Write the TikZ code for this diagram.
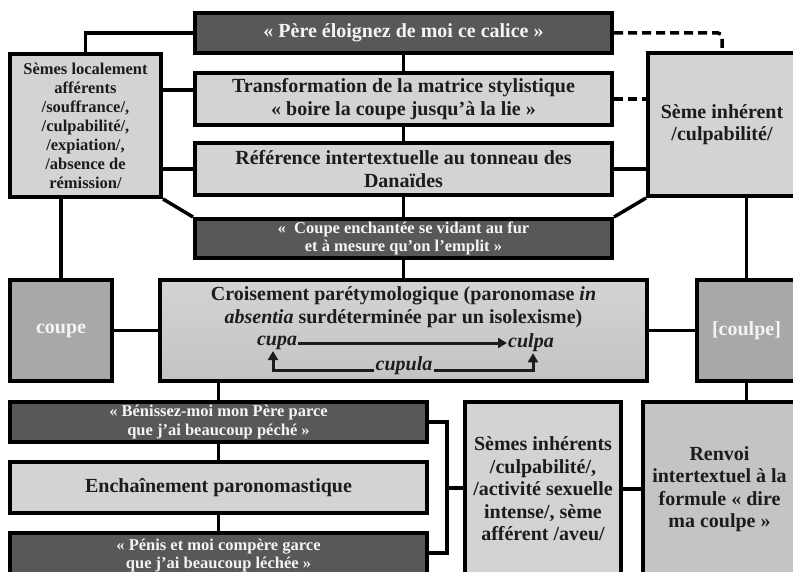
\documentclass[tikz,border=0pt]{standalone}
\usepackage{fontspec}
\setmainfont{Liberation Serif}
\usetikzlibrary{arrows.meta}
\definecolor{dk}{HTML}{585858}
\definecolor{lt}{HTML}{D3D3D3}
\definecolor{md}{HTML}{A8A8A8}
\definecolor{rv}{HTML}{C4C4C4}
\definecolor{ink}{HTML}{1C1C1C}
\definecolor{wt}{HTML}{F4F4F4}
\begin{document}
\begin{tikzpicture}[x=1pt,y=-1pt,
  box/.style={draw=black, line width=4pt, inner sep=0pt, align=center},
  big/.style={font={\fontsize{20}{22.5}\selectfont\bfseries}},
  small/.style={font={\fontsize{16.5}{18.5}\selectfont\bfseries}},
  mid/.style={font={\fontsize{16.5}{19}\selectfont\bfseries}},
  darkbox/.style={box, fill=dk, text=wt},
  lightbox/.style={box, fill=lt, text=ink},
  midbox/.style={box, fill=md, text=wt},
  link/.style={draw=black, line width=3.5pt},
  dlink/.style={draw=black, line width=3.5pt, dash pattern=on 9pt off 5pt},
  arr/.style={draw=ink, line width=3pt, -{Triangle[length=9pt,width=10pt]}}
]
\useasboundingbox (0,0) rectangle (793,572);
\clip (0,0) rectangle (793,572);

% top column
\node[darkbox, big, minimum width=417pt, minimum height=40pt] (top) at (403.5,33) {« Père éloignez de moi ce calice »};
\node[lightbox, big, minimum width=417pt, minimum height=52pt] (trans) at (403.5,99) {Transformation de la matrice stylistique\\« boire la coupe jusqu’à la lie »};
\node[lightbox, big, minimum width=417pt, minimum height=52pt] (ref) at (403.5,169) {Référence intertextuelle au tonneau des\\Danaïdes};
\node[darkbox, small, minimum width=417pt, minimum height=39pt] (ench) at (403.5,238.5) {«\ \ Coupe enchantée se vidant au fur\\et à mesure qu’on l’emplit »};

% side boxes
\node[lightbox, mid, minimum width=151pt, minimum height=143pt] (loc) at (85.5,125.5) {Sèmes localement\\afférents\\/souffrance/,\\/culpabilité/,\\/expiation/,\\/absence de\\rémission/};
\node[lightbox, big, minimum width=148pt, minimum height=143pt] (inh) at (722,124.5) {Sème inhérent\\/culpabilité/};

% middle row
\node[midbox, big, minimum width=102pt, minimum height=101pt] (coupe) at (61,330.5) {coupe};
\node[box, top color=lt, bottom color=rv, minimum width=487pt, minimum height=101pt] (crois) at (403.5,330.5) {};
\node[midbox, big, minimum width=99pt, minimum height=101pt] (coulpe) at (746.5,330.5) {[coulpe]};
\node[big, text=ink, align=center] (crtxt) at (403.5,307) {Croisement parétymologique (paronomase \textit{in}\\\textit{absentia} surdéterminée par un isolexisme)};
\node[big, text=ink, inner sep=1pt] (cupa) at (277,343) {\textit{cupa}};
\node[big, text=ink, inner sep=1pt] (culpa) at (531,343) {\textit{culpa}};
\node[big, text=ink, inner sep=1pt] (cupula) at (404,366) {\textit{cupula}};

% bottom left column
\node[darkbox, small, minimum width=417pt, minimum height=40pt] (ben) at (218.5,422) {« Bénissez-moi mon Père parce\\que j'ai beaucoup péché »};
\node[lightbox, big, minimum width=417pt, minimum height=51pt] (chain) at (218.5,487.5) {Enchaînement paronomastique};
\node[darkbox, small, minimum width=417pt, minimum height=52pt] (pen) at (218.5,559) {};
\node[small, text=wt, align=center] (pentxt) at (218.5,555.5) {« Pénis et moi compère garce\\que j'ai beaucoup léchée »};

% bottom right boxes
\node[lightbox, big, minimum width=156pt, minimum height=174pt] (semi) at (543,489) {Sèmes inhérents\\/culpabilité/,\\/activité sexuelle\\intense/, sème\\afférent /aveu/};
\node[box, fill=rv, text=ink, big, minimum width=153pt, minimum height=174pt] (renvoi) at (719.5,489) {Renvoi\\intertextuel à la\\formule « dire\\ma coulpe »};

% connectors
\draw[link] (loc.north) |- (top.west);
\draw[link] (loc.east |- {(0,90)}) -- (trans.west |- {(0,90)});
\draw[link] (loc.east |- ref.west) -- (ref.west);
\draw[dlink, rounded corners=4pt] (top.east) -| (inh.north);
\draw[dlink] (trans.east) -- (trans.east -| inh.west);
\draw[link] (ref.east) -- (ref.east -| inh.west);
\draw[link] (top.south) -- (trans.north);
\draw[link] (trans.south) -- (ref.north);
\draw[link] (ref.south) -- (ench.north);
\draw[link] (ench.south) -- (crois.north);
\draw[link] (loc.south east) -- (ench.north west);
\draw[link] (ench.north east) -- (inh.south west);
\draw[link] (coupe.north) -- (coupe.north |- loc.south);
\draw[link] (coulpe.north) -- (coulpe.north |- inh.south);
\draw[link] (coupe.east) -- (crois.west);
\draw[link] (crois.east) -- (coulpe.west);
\draw[link] (ben.north) -- (ben.north |- crois.south);
\draw[link] (ben.south) -- (chain.north);
\draw[link] (chain.south) -- (pen.north);
\coordinate (br) at (447,488);
\draw[link] (ben.east) -| (br) |- (pen.east |- {(0,553)});
\draw[link] (br) -- (br -| semi.west);
\draw[link] (semi.east) -- (renvoi.west);
\draw[link] (coulpe.south) -- (coulpe.south |- renvoi.north);

% arrows inside
\draw[arr] (cupa.east) -- (culpa.west);
\draw[arr] (cupula.west |- {(0,370)}) -| ([xshift=-4pt]cupa.south);
\draw[arr] (cupula.east |- {(0,370)}) -| ([xshift=2pt]culpa.south);
\end{tikzpicture}
\end{document}
